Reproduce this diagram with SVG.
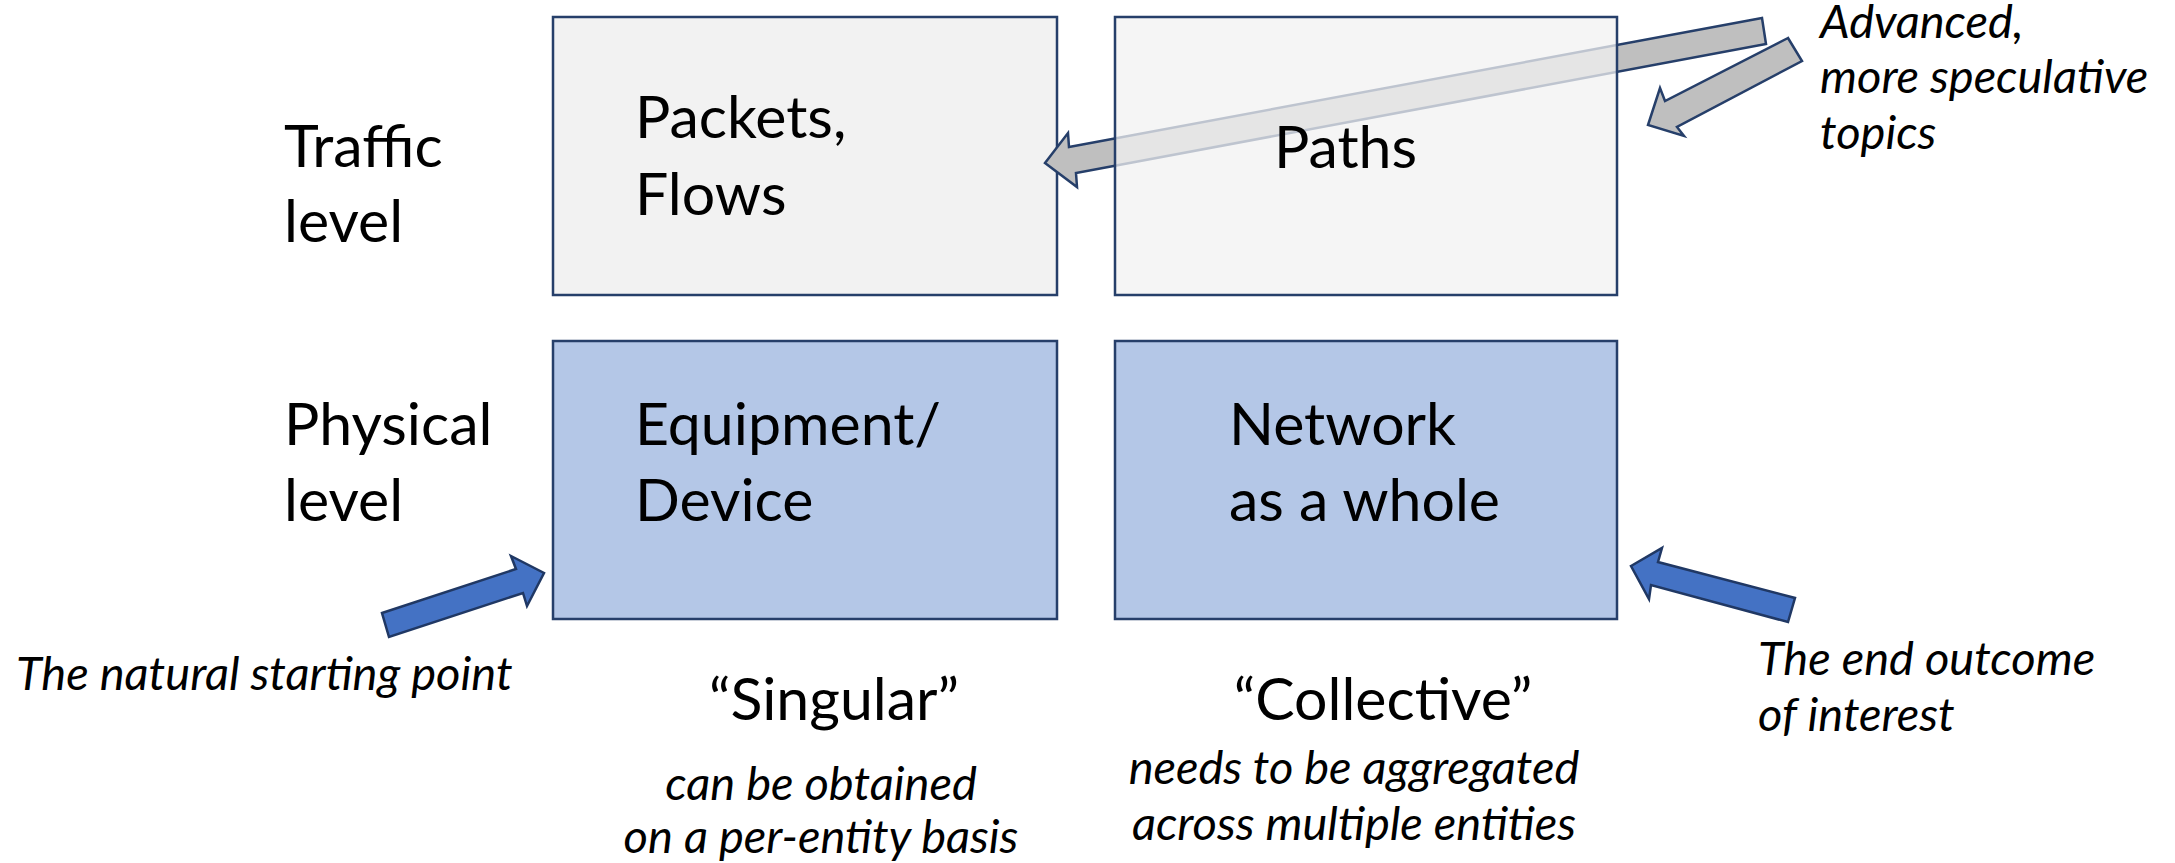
<svg xmlns="http://www.w3.org/2000/svg" width="2175" height="863" viewBox="0 0 2175 863">
<style>
.t{font-family:Lato,"Open Sans",sans-serif;fill:#000}
.big{font-size:59px}
.it{font-style:italic;font-size:47px}
.grey{fill:#f2f2f2;stroke:#263f6a;stroke-width:2.5}
.blue{fill:#b4c7e7;stroke:#263f6a;stroke-width:2.5}
.ga{fill:#bfbfbf;stroke:#263f6a;stroke-width:2.5;stroke-linejoin:miter}
.ba{fill:#4472c4;stroke:#203864;stroke-width:2.5;stroke-linejoin:miter}
</style>
<rect width="2175" height="863" fill="#ffffff"/>
<g id="label-traffic"><text class="t big" x="284" y="167">Traffic</text><text class="t big" x="284" y="242">level</text></g>
<g id="label-physical"><text class="t big" x="284" y="445">Physical</text><text class="t big" x="284" y="521">level</text></g>
<g id="node-packets"><rect class="grey" x="553" y="17" width="504" height="278"/><text class="t big" x="635" y="138">Packets,</text><text class="t big" x="635" y="215">Flows</text></g>
<g id="connectors">
<polygon class="ga" points="1762,18 1069,147 1068,133 1045,163 1077,187 1076,173 1766,44"/>
</g>
<g id="node-paths"><rect class="grey" x="1115" y="17" width="502" height="278" fill-opacity="0.75"/><text class="t big" x="1274" y="168">Paths</text></g>
<g id="node-equipment"><rect class="blue" x="553" y="341" width="504" height="278"/><text class="t big" x="635" y="445">Equipment/</text><text class="t big" x="635" y="521">Device</text></g>
<g id="node-network"><rect class="blue" x="1115" y="341" width="502" height="278"/><text class="t big" x="1229" y="445">Network</text><text class="t big" x="1229" y="521">as a whole</text></g>
<g id="connectors-2">
<polygon class="ga" points="1788,38 1665,101 1660,88 1648,125 1684,136 1677,127 1802,61"/>
<polygon class="ba" points="382,613 516,569 511,556 544,573 527,606 523,593 389,637"/>
<polygon class="ba" points="1631,566 1662,548 1658,562 1795,598 1788,622 1651,585 1649,599"/>
</g>
<g id="note-advanced"><text class="t it" x="1820" y="38">Advanced,</text><text class="t it" x="1820" y="93">more speculative</text><text class="t it" x="1820" y="149">topics</text></g>
<g id="note-start"><text class="t it" x="16" y="690">The natural starting point</text></g>
<g id="note-end"><text class="t it" x="1758" y="675">The end outcome</text><text class="t it" x="1758" y="731">of interest</text></g>
<g id="caption-singular"><text class="t big" x="834" y="720" text-anchor="middle">“Singular”</text><text class="t it" x="821" y="800" text-anchor="middle">can be obtained</text><text class="t it" x="821" y="853" text-anchor="middle">on a per-entity basis</text></g>
<g id="caption-collective"><text class="t big" x="1383" y="720" text-anchor="middle">“Collective”</text><text class="t it" x="1354" y="784" text-anchor="middle">needs to be aggregated</text><text class="t it" x="1354" y="840" text-anchor="middle">across multiple entities</text></g>
</svg>
